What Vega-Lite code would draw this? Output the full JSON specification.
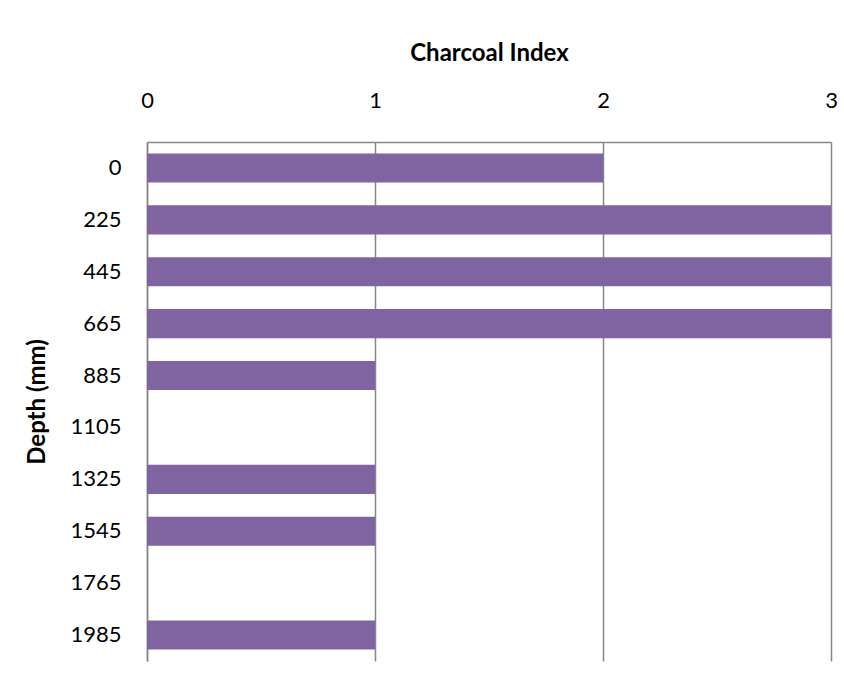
{
  "$schema": "https://vega.github.io/schema/vega-lite/v6.json",
  "autosize": {"type": "none"},
  "padding": {"left": 147, "top": 142, "right": 13, "bottom": 31},
  "width": 684,
  "height": 519,
  "background": "white",
  "data": {
    "values": [
      {"depth": "0", "charcoal": 2},
      {"depth": "225", "charcoal": 3},
      {"depth": "445", "charcoal": 3},
      {"depth": "665", "charcoal": 3},
      {"depth": "885", "charcoal": 1},
      {"depth": "1105", "charcoal": 0},
      {"depth": "1325", "charcoal": 1},
      {"depth": "1545", "charcoal": 1},
      {"depth": "1765", "charcoal": 0},
      {"depth": "1985", "charcoal": 1}
    ]
  },
  "mark": {"type": "bar", "color": "#8064A2"},
  "encoding": {
    "y": {
      "field": "depth",
      "type": "ordinal",
      "sort": null,
      "scale": {"paddingInner": 0.44, "paddingOuter": 0.22},
      "axis": {
        "title": "Depth (mm)",
        "titleFont": "Lato",
        "titleFontSize": 24,
        "titleFontWeight": "bold",
        "titleColor": "black",
        "titlePadding": 20,
        "labelFont": "Lato",
        "labelFontSize": 22,
        "labelColor": "black",
        "labelPadding": 26,
        "labelOverlap": false,
        "ticks": false,
        "domainColor": "#868686",
        "domainWidth": 1.5,
        "grid": false
      }
    },
    "x": {
      "field": "charcoal",
      "type": "quantitative",
      "scale": {"domain": [0, 3], "nice": false},
      "axis": {
        "orient": "top",
        "title": "Charcoal Index",
        "titleFont": "Lato",
        "titleFontSize": 24,
        "titleFontWeight": "bold",
        "titleColor": "black",
        "titlePadding": 24,
        "labelFont": "Lato",
        "labelFontSize": 22,
        "labelColor": "black",
        "labelPadding": 30,
        "labelOverlap": false,
        "labelFlush": false,
        "ticks": false,
        "values": [0, 1, 2, 3],
        "domainColor": "#868686",
        "domainWidth": 1.5,
        "grid": true,
        "gridColor": "#868686",
        "gridWidth": 1.5,
        "gridOpacity": 1
      }
    }
  },
  "config": {"view": {"stroke": null}}
}
